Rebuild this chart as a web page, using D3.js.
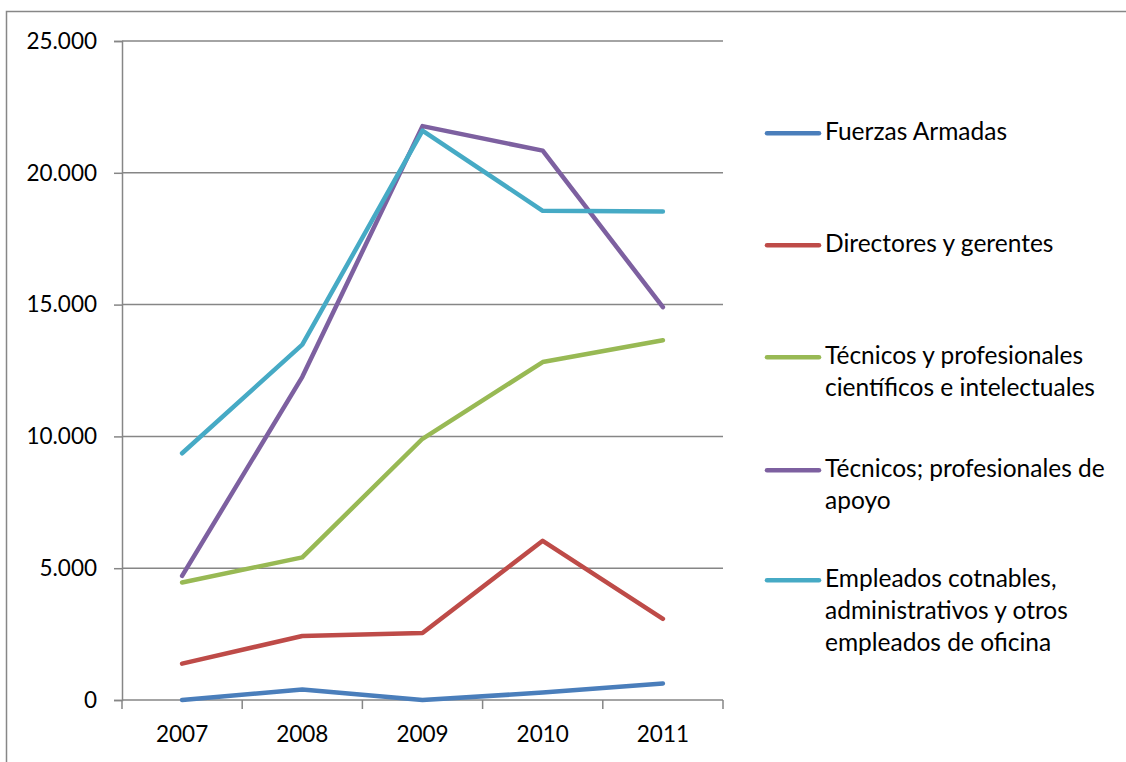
<!DOCTYPE html>
<html>
<head>
<meta charset="utf-8">
<script src="https://cdn.jsdelivr.net/npm/d3@7"></script>
<style>
  body { margin: 0; background: #fff; }
  svg { display: block; }
  text { font-family: Lato, "Open Sans", sans-serif; fill: #000; }
</style>
</head>
<body>
<svg id="chart" width="1126" height="762"></svg>
<script>
const years = ["2007", "2008", "2009", "2010", "2011"];
const yTicks = [0, 5000, 10000, 15000, 20000, 25000];
const seriesNames = [
  "Fuerzas Armadas",
  "Directores y gerentes",
  "Técnicos y profesionales\ncientíficos e intelectuales",
  "Técnicos; profesionales de\napoyo",
  "Empleados cotnables,\nadministrativos y otros\nempleados de oficina"
];
const fuerzasArmadas = [0, 400, 0, 280, 630];
const directores = [1380, 2430, 2540, 6040, 3080];
const tecnicosCientificos = [4460, 5410, 9910, 12820, 13650];
const tecnicosApoyo = [4710, 12260, 21770, 20840, 14900];
const empleados = [9360, 13480, 21600, 18560, 18530];
const seriesValues = [fuerzasArmadas, directores, tecnicosCientificos, tecnicosApoyo, empleados];
const colors = ["#4A7EBB", "#BE4B48", "#98B954", "#7D60A0", "#46AAC5"];

const svg = d3.select("#chart");
const pLeft = 122, pRight = 723, pTop = 41, pBottom = 700;

// outer border
svg.append("rect").attr("x", 6.5).attr("y", 11.5).attr("width", 1140).attr("height", 800)
  .attr("fill", "none").attr("stroke", "#878787").attr("stroke-width", 1.5);

const x = d3.scaleBand().domain(years).range([pLeft, pRight]).padding(0);
const y = d3.scaleLinear().domain([0, 25000]).range([pBottom, pTop]);

const fmt = v => v === 0 ? "0" : d3.format(",")(v).replace(/,/g, ".");

// gridlines
svg.append("g").selectAll("line").data(yTicks.filter(d => d > 0)).join("line")
  .attr("x1", pLeft).attr("x2", pRight)
  .attr("y1", d => y(d)).attr("y2", d => y(d))
  .attr("stroke", "#868686").attr("stroke-width", 1.5);

// y axis
const yAxis = svg.append("g").attr("transform", `translate(${pLeft},0)`)
  .call(d3.axisLeft(y).tickValues(yTicks).tickFormat(fmt).tickSize(8).tickPadding(17));
yAxis.select(".domain").attr("stroke", "#868686").attr("stroke-width", 1.5);
yAxis.selectAll(".tick line").attr("stroke", "#868686").attr("stroke-width", 1.5);
yAxis.selectAll("text").attr("font-size", 22.5).attr("font-family", "Lato, sans-serif").attr("fill", "#000");

// x axis
const xTickPos = years.map(d => x(d)).concat([pRight]);
const xAxisG = svg.append("g").attr("transform", `translate(0,${pBottom})`);
xAxisG.append("line").attr("x1", pLeft).attr("x2", pRight).attr("y1", 0).attr("y2", 0)
  .attr("stroke", "#868686").attr("stroke-width", 1.5);
xAxisG.selectAll("line.tk").data(xTickPos).join("line").attr("class", "tk")
  .attr("x1", d => d).attr("x2", d => d).attr("y1", 0).attr("y2", 9)
  .attr("stroke", "#868686").attr("stroke-width", 1.5);
xAxisG.selectAll("text").data(years).join("text")
  .attr("x", d => x(d) + x.bandwidth() / 2).attr("y", 42)
  .attr("text-anchor", "middle").attr("font-size", 22.5).text(d => d);

// lines
const line = d3.line().x((d, i) => x(years[i]) + x.bandwidth() / 2).y(d => y(d));
svg.append("g").selectAll("path").data(seriesValues).join("path")
  .attr("d", d => line(d)).attr("fill", "none")
  .attr("stroke", (d, i) => colors[i]).attr("stroke-width", 4.5)
  .attr("stroke-linecap", "round").attr("stroke-linejoin", "round");

// legend
const legendY = [140.3, 252.3, 364.3, 477.3, 587.3];
const lg = svg.append("g");
seriesNames.forEach((name, i) => {
  const g = lg.append("g").attr("transform", `translate(0,${legendY[i]})`);
  g.append("line").attr("x1", 767).attr("x2", 819).attr("y1", -7).attr("y2", -7)
    .attr("stroke", colors[i]).attr("stroke-width", 4.5).attr("stroke-linecap", "round");
  const t = g.append("text").attr("x", 825).attr("y", 0).attr("font-size", 24.5);
  name.split("\n").forEach((ln, j) => {
    t.append("tspan").attr("x", 825).attr("dy", j === 0 ? 0 : 32).text(ln);
  });
});
</script>
</body>
</html>
